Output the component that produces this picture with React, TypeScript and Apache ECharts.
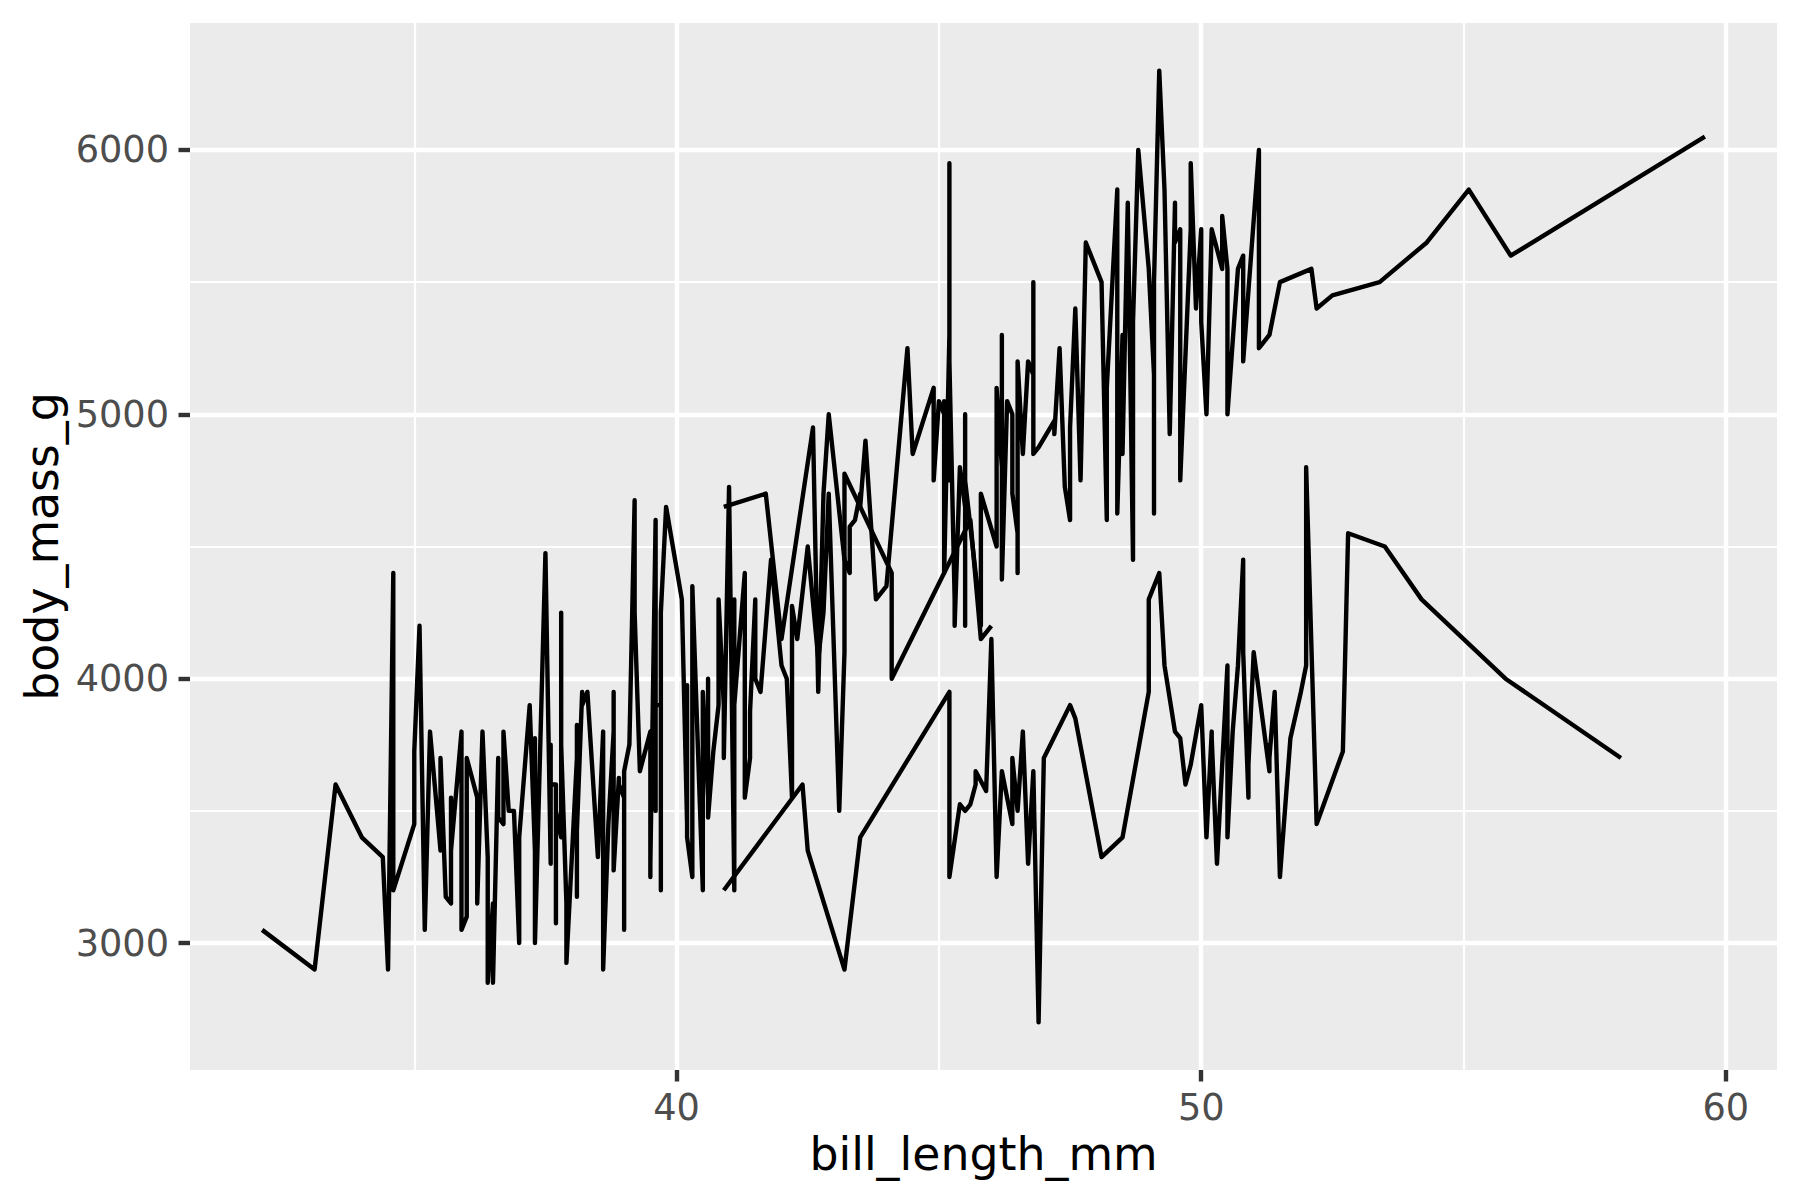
import React, { useEffect, useRef } from "react";
import * as echarts from "echarts";

// Adelie (bill_length_mm, body_mass_g), original row order
const adelieBill = [
  39.1, 39.5, 40.3, 36.7, 39.3, 38.9, 39.2, 41.1, 38.6, 34.6, 36.6, 38.7, 42.5, 34.4, 46.0,
  37.8, 37.7, 35.9, 38.2, 38.8, 35.3, 40.6, 40.5, 37.9, 40.5,
  39.5, 37.2, 39.5, 40.9, 36.4, 39.2, 38.8, 42.2, 37.6, 39.8, 36.5, 40.8, 36.0, 44.1, 37.0, 39.6, 41.1, 36.0, 42.3,
  39.6, 40.1, 35.0, 42.0, 34.5, 41.4, 39.0, 40.6, 36.5, 37.6, 35.7, 41.3, 37.6, 41.1, 36.4, 41.6, 35.5, 41.1,
  35.9, 41.8, 33.5, 39.7, 39.6, 45.8, 35.5, 42.8, 40.9, 37.2, 36.2, 42.1, 34.6, 42.9, 36.7, 35.1,
  37.3, 41.3, 36.3, 36.9, 38.3, 38.9, 35.7, 41.1, 34.0, 39.6, 36.2, 40.8, 38.1, 40.3, 33.1, 43.2,
  35.0, 41.0, 37.7, 37.8, 37.9, 39.7, 38.6, 38.2, 38.1, 43.2, 38.1, 45.6, 39.7, 42.2, 39.6, 42.7,
  38.6, 37.3, 35.7, 41.1, 36.2, 37.7, 40.2, 41.4, 35.2, 40.6, 38.8, 41.5, 39.0, 44.1, 38.5, 43.1,
  36.8, 37.5, 38.1, 41.1, 35.6, 40.2, 37.0, 39.7, 40.2, 40.6, 32.1, 40.7, 37.3, 39.0, 39.2, 36.6, 36.0, 37.8, 36.0, 41.5,
];
const adelieMass = [
  3750, 3800, 3250, 3450, 3650, 3625, 4675, 3200, 3800, 4400, 3700, 3450, 4500, 3325, 4200,
  3400, 3600, 3800, 3950, 3800, 3800, 3550, 3200, 3150, 3950,
  3250, 3900, 3300, 3900, 3325, 4150, 3950, 3550, 3300, 4650, 3150, 3900, 3100, 4400, 3000, 4600, 3425, 3450, 4150,
  3500, 4300, 3450, 4050, 2900, 3700, 3550, 3800, 2850, 3750, 3150, 4400, 3600, 4050, 2850, 3950, 3350, 4100,
  3050, 4450, 3600, 3900, 3550, 4150, 3700, 4250, 3700, 3900, 3550, 4000, 3200, 4700, 3800, 4200,
  3350, 3550, 3800, 3500, 3950, 3600, 3550, 4300, 3400, 4450, 3300, 4300, 3700, 4350, 2900, 4100,
  3725, 4725, 3075, 4250, 2925, 3550, 3750, 3900, 3175, 4775, 3825, 4600, 3200, 4275, 3900, 4075,
  2900, 3775, 3350, 3325, 3150, 3500, 3450, 3875, 3050, 4000, 3275, 4300, 3050, 4000, 3325, 3500,
  3500, 4475, 3425, 3900, 3175, 3975, 3400, 4250, 3400, 3475, 3050, 3725, 3000, 3650, 4250, 3475, 3450, 3750, 3700, 4000,
];

// Gentoo
const gentooBill = [
  46.1, 50.0, 48.7, 50.0, 47.6, 46.5, 45.4, 46.7, 43.3, 46.8, 40.9, 49.0, 45.5, 48.4, 45.8, 49.3, 42.0, 49.2, 46.2, 48.7,
  50.2, 45.1, 46.5, 46.3, 42.9, 46.1, 47.8, 48.2, 50.0, 47.3, 42.8, 45.1, 59.6,
  49.1, 48.4, 42.6, 44.4, 44.0, 48.7, 42.7, 49.6, 45.3, 49.6, 50.5, 43.6, 45.5, 50.5, 44.9, 45.2, 46.6, 48.5, 45.1, 50.1,
  46.5, 45.0, 43.8, 45.5, 43.2, 50.4, 45.3, 46.2, 45.7, 54.3, 45.8, 49.8, 49.5, 43.5, 50.7, 47.7, 46.4, 48.2, 46.5, 46.4,
  48.6, 47.5, 51.1, 45.2, 45.2,
  49.1, 52.5, 47.4, 50.0, 44.9, 50.8, 43.4, 51.3, 47.5, 52.1, 47.5, 52.2, 45.5, 49.5, 44.5, 50.8, 49.4, 46.9, 48.4, 51.1,
  48.5, 55.9, 47.2, 49.1, 46.8, 41.7, 53.4, 43.3, 48.1, 50.5, 49.8, 43.5, 51.5, 46.2, 55.1, 48.8, 47.2, 46.8, 50.4, 45.2, 49.9,
];
const gentooMass = [
  4500, 5700, 4450, 5700, 5400, 4550, 4800, 5200, 4400, 5150, 4650, 5550, 4650, 5850, 4200, 5850, 4150, 6300, 4800, 5350,
  5700, 5000, 4400, 5050, 5000, 5100, 5650, 4600, 5550, 5250, 4700, 5050, 6050,
  5150, 5400, 4950, 5250, 4350, 5350, 3950, 5700, 4300, 4750, 5550, 4900, 4200, 5400, 5100, 5300, 4850, 5300, 4400, 5000,
  4900, 5050, 4300, 5000, 4450, 5550, 4200, 5300, 4400, 5650, 4700, 5700, 5800, 4700, 5550, 4750, 5000, 5100, 5200, 4700,
  5800, 4600, 6000, 4750, 5950,
  4625, 5450, 4725, 5350, 4750, 5600, 4600, 5300, 4875, 5550, 4950, 5400, 4750, 5650, 4850, 5200, 4925, 4875, 4625, 5250,
  4850, 5600, 4975, 5500, 5500, 4700, 5500, 4575, 5500, 5000, 5950, 4650, 5500, 4375, 5850, 6000, 4925, 4850, 5750, 5200, 5400,
];

// Chinstrap
const chinstrapBill = [
  46.5, 50.0, 51.3, 45.4, 52.7, 45.2, 46.1, 51.3, 46.0, 51.3, 46.6, 51.7, 47.0, 52.0, 45.9, 50.5, 50.3, 58.0, 46.4, 49.2,
  42.4, 48.5, 43.2, 50.6, 46.7, 52.0,
  50.5, 49.5, 46.4, 52.8, 40.9, 54.2, 42.5, 51.0, 49.7, 47.5, 47.6, 52.0, 46.9, 53.5, 49.0, 46.2, 50.9, 45.5,
  50.9, 50.8, 50.1, 49.0, 51.5, 49.8, 48.1, 51.4, 45.7, 50.7, 42.5, 52.2, 45.2, 49.3, 50.2, 45.6, 51.9, 46.8, 45.7, 55.8,
  43.5, 49.6, 50.8, 50.2,
];
const chinstrapMass = [
  3500, 3900, 3650, 3525, 3725, 3950, 3250, 3750, 4150, 3700, 3800, 3775, 3700, 4050, 3575, 4050, 3300, 3700, 3450, 4400,
  3600, 3400, 2900, 3800, 3300, 4150,
  3400, 3800, 3700, 4550, 3200, 4300, 3350, 4100, 3600, 3900, 3850, 4800, 2700, 4500, 3950, 3650, 3550, 3500,
  3675, 4450, 3400, 4300, 3250, 3675, 3325, 3950, 3600, 4050, 3350, 3450, 3250, 4050, 3800, 3525, 3950, 3650, 3650, 4000,
  3400, 3775, 4100, 3775,
];

// Axis breaks
const xMajorBreaks = [40, 50, 60];
const xMinorBreaks = [35, 45, 55];
const yMajorBreaks = [3000, 4000, 5000, 6000];
const yMinorBreaks = [3500, 4500, 5500];
const xLimits = [30.725, 60.975];
const yLimits = [2520, 6480];

function sortedPairs(bill: number[], mass: number[]) {
  return bill.map((b, i) => [b, mass[i]]).sort((a, b) => a[0] - b[0]);
}

const FONT = "DejaVu Sans";
const LW = 4.4;

export default function App() {
  const ref = useRef<HTMLDivElement>(null);
  useEffect(() => {
    if (!ref.current) return;
    const chart = echarts.init(ref.current, undefined, { renderer: "svg" });
    const dataLine = (name: string, bill: number[], mass: number[]) => ({
      name,
      type: "line",
      data: sortedPairs(bill, mass),
      showSymbol: false,
      symbol: "none",
      z: 3,
      silent: true,
      lineStyle: { color: "#000000", width: LW, cap: "butt", join: "round" },
    });
    const gridLines = (vals: number[], key: "xAxis" | "yAxis", width: number) =>
      vals.map((v) => ({ [key]: v, lineStyle: { color: "#FFFFFF", width, type: "solid" } }));
    chart.setOption({
      animation: false,
      backgroundColor: "#FFFFFF",
      grid: {
        left: 190,
        right: 23,
        top: 23,
        bottom: 130,
        show: true,
        backgroundColor: "#EBEBEB",
        borderWidth: 0,
      },
      xAxis: {
        type: "value",
        min: xLimits[0],
        max: xLimits[1],
        name: "bill_length_mm",
        nameLocation: "middle",
        nameGap: 60,
        nameTextStyle: { fontFamily: FONT, fontSize: 45.8, color: "#000000" },
        axisLine: { show: false },
        splitLine: { show: false },
        axisTick: {
          show: true,
          customValues: xMajorBreaks,
          length: 11.5,
          lineStyle: { color: "#333333", width: LW },
        },
        axisLabel: {
          customValues: xMajorBreaks,
          formatter: (v: number) => String(v),
          color: "#4D4D4D",
          fontFamily: FONT,
          fontSize: 36.7,
          margin: 19,
        },
      },
      yAxis: {
        type: "value",
        min: yLimits[0],
        max: yLimits[1],
        name: "body_mass_g",
        nameLocation: "middle",
        nameRotate: 90,
        nameGap: 119,
        nameTextStyle: { fontFamily: FONT, fontSize: 45.8, color: "#000000" },
        axisLine: { show: false },
        splitLine: { show: false },
        axisTick: {
          show: true,
          customValues: yMajorBreaks,
          length: 11.5,
          lineStyle: { color: "#333333", width: LW },
        },
        axisLabel: {
          customValues: yMajorBreaks,
          formatter: (v: number) => String(v),
          color: "#4D4D4D",
          fontFamily: FONT,
          fontSize: 36.7,
          margin: 21,
        },
      },
      series: [
        {
          type: "line",
          data: [[45, 4500]],
          symbol: "none",
          showSymbol: false,
          silent: true,
          z: 1,
          lineStyle: { width: 0, opacity: 0 },
          markLine: {
            silent: true,
            z: 1,
            symbol: ["none", "none"],
            label: { show: false },
            emphasis: { disabled: true },
            data: [
              ...gridLines(xMinorBreaks, "xAxis", LW / 2),
              ...gridLines(yMinorBreaks, "yAxis", LW / 2),
              ...gridLines(xMajorBreaks, "xAxis", LW),
              ...gridLines(yMajorBreaks, "yAxis", LW),
            ],
          },
        },
        dataLine("Adelie", adelieBill, adelieMass),
        dataLine("Chinstrap", chinstrapBill, chinstrapMass),
        dataLine("Gentoo", gentooBill, gentooMass),
      ],
    });
    return () => chart.dispose();
  }, []);
  return (
    <div
      ref={ref}
      style={{ position: "absolute", left: 0, top: 0, width: 1800, height: 1200, background: "#FFFFFF" }}
    />
  );
}
